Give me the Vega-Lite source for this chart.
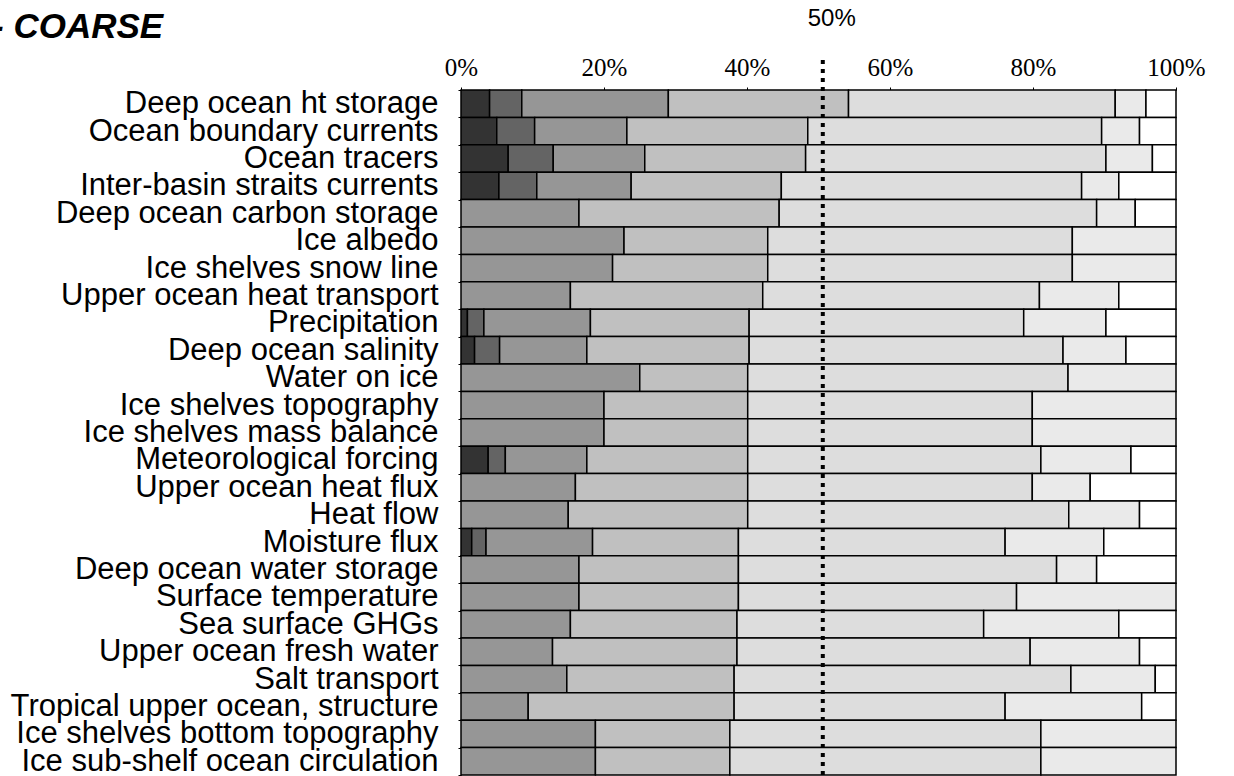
{
  "$schema": "https://vega.github.io/schema/vega-lite/v6.json",
  "autosize": "none",
  "width": 715,
  "height": 685,
  "padding": {"left": 461, "top": 90, "right": 58, "bottom": 1},
  "background": "white",
  "config": {"view": {"stroke": null}},
  "title": {"text": "- COARSE", "anchor": "start", "frame": "group", "font": "Liberation Sans", "fontSize": 35, "fontStyle": "italic", "fontWeight": "bold", "color": "black", "dx": -469, "dy": 38, "offset": 0},
  "layer": [
    {
      "data": {"values": [
        {"item": "Deep ocean ht storage", "c1": 4.0, "c2": 4.5, "c3": 20.5, "c4": 25.2, "c5": 37.3, "c6": 4.3, "c7": 4.2},
        {"item": "Ocean boundary currents", "c1": 5.0, "c2": 5.3, "c3": 12.9, "c4": 25.3, "c5": 41.1, "c6": 5.3, "c7": 5.1},
        {"item": "Ocean tracers", "c1": 6.6, "c2": 6.3, "c3": 12.8, "c4": 22.5, "c5": 42.0, "c6": 6.5, "c7": 3.3},
        {"item": "Inter-basin straits currents", "c1": 5.3, "c2": 5.3, "c3": 13.2, "c4": 21.0, "c5": 42.0, "c6": 5.2, "c7": 8.0},
        {"item": "Deep ocean carbon storage", "c1": 0, "c2": 0, "c3": 16.5, "c4": 28.0, "c5": 44.4, "c6": 5.4, "c7": 5.7},
        {"item": "Ice albedo", "c1": 0, "c2": 0, "c3": 22.8, "c4": 20.1, "c5": 42.6, "c6": 14.5, "c7": 0},
        {"item": "Ice shelves snow line", "c1": 0, "c2": 0, "c3": 21.2, "c4": 21.7, "c5": 42.6, "c6": 14.5, "c7": 0},
        {"item": "Upper ocean heat transport", "c1": 0, "c2": 0, "c3": 15.3, "c4": 26.9, "c5": 38.7, "c6": 11.1, "c7": 8.0},
        {"item": "Precipitation", "c1": 0.9, "c2": 2.3, "c3": 14.9, "c4": 22.2, "c5": 38.4, "c6": 11.5, "c7": 9.8},
        {"item": "Deep ocean salinity", "c1": 1.9, "c2": 3.5, "c3": 12.2, "c4": 22.7, "c5": 43.9, "c6": 8.8, "c7": 7.0},
        {"item": "Water on ice", "c1": 0, "c2": 0, "c3": 25.0, "c4": 15.1, "c5": 44.8, "c6": 15.1, "c7": 0},
        {"item": "Ice shelves topography", "c1": 0, "c2": 0, "c3": 20.0, "c4": 20.1, "c5": 39.8, "c6": 20.1, "c7": 0},
        {"item": "Ice shelves mass balance", "c1": 0, "c2": 0, "c3": 20.0, "c4": 20.1, "c5": 39.8, "c6": 20.1, "c7": 0},
        {"item": "Meteorological forcing", "c1": 3.8, "c2": 2.4, "c3": 11.4, "c4": 22.5, "c5": 41.0, "c6": 12.6, "c7": 6.3},
        {"item": "Upper ocean heat flux", "c1": 0, "c2": 0, "c3": 16.0, "c4": 24.1, "c5": 39.8, "c6": 8.1, "c7": 12.0},
        {"item": "Heat flow", "c1": 0, "c2": 0, "c3": 15.0, "c4": 25.1, "c5": 44.9, "c6": 9.9, "c7": 5.1},
        {"item": "Moisture flux", "c1": 1.5, "c2": 2.0, "c3": 14.9, "c4": 20.4, "c5": 37.3, "c6": 13.8, "c7": 10.1},
        {"item": "Deep ocean water storage", "c1": 0, "c2": 0, "c3": 16.5, "c4": 22.3, "c5": 44.5, "c6": 5.6, "c7": 11.1},
        {"item": "Surface temperature", "c1": 0, "c2": 0, "c3": 16.5, "c4": 22.3, "c5": 38.9, "c6": 22.3, "c7": 0},
        {"item": "Sea surface GHGs", "c1": 0, "c2": 0, "c3": 15.3, "c4": 23.3, "c5": 34.5, "c6": 18.9, "c7": 8.0},
        {"item": "Upper ocean fresh water", "c1": 0, "c2": 0, "c3": 12.8, "c4": 25.8, "c5": 41.0, "c6": 15.3, "c7": 5.1},
        {"item": "Salt transport", "c1": 0, "c2": 0, "c3": 14.8, "c4": 23.4, "c5": 47.1, "c6": 11.8, "c7": 2.9},
        {"item": "Tropical upper ocean, structure", "c1": 0, "c2": 0, "c3": 9.4, "c4": 28.8, "c5": 37.9, "c6": 19.1, "c7": 4.8},
        {"item": "Ice shelves bottom topography", "c1": 0, "c2": 0, "c3": 18.8, "c4": 18.8, "c5": 43.5, "c6": 18.9, "c7": 0},
        {"item": "Ice sub-shelf ocean circulation", "c1": 0, "c2": 0, "c3": 18.8, "c4": 18.8, "c5": 43.5, "c6": 18.9, "c7": 0}
      ]},
      "transform": [
        {"fold": ["c1", "c2", "c3", "c4", "c5", "c6", "c7"], "as": ["cat", "v"]},
        {"filter": "datum.v > 0"}
      ],
      "mark": {"type": "bar", "stroke": "black", "strokeWidth": 1.5},
      "encoding": {
        "y": {"field": "item", "type": "nominal", "sort": null,
              "scale": {"paddingInner": 0, "paddingOuter": 0},
              "axis": {"orient": "left", "title": null, "labelFont": "Liberation Sans", "labelFontSize": 31, "labelColor": "black", "labelLimit": 600, "tickColor": "black", "tickSize": 3, "tickBand": "extent", "domainColor": "black", "labelPadding": 20}},
        "x": {"field": "v", "type": "quantitative", "stack": "zero",
              "scale": {"domain": [0, 100], "nice": false},
              "axis": {"orient": "top", "values": [0, 20, 40, 60, 80, 100], "labelExpr": "datum.value + '%'", "labelFont": "Liberation Serif", "labelFontSize": 25, "labelColor": "black", "tickColor": "black", "tickSize": 3, "domainColor": "black", "grid": false, "title": null, "labelPadding": 12, "labelBaseline": "alphabetic", "labelFlush": false}},
        "color": {"field": "cat", "type": "nominal",
                  "scale": {"domain": ["c1", "c2", "c3", "c4", "c5", "c6", "c7"], "range": ["#333333", "#646464", "#969696", "#c0c0c0", "#dddddd", "#eaeaea", "#ffffff"]},
                  "legend": null},
        "order": {"field": "cat", "type": "ordinal", "sort": "ascending"}
      }
    },
    {
      "data": {"values": [{"p": 50.6, "y0": 0, "y1": 105.1}]},
      "mark": {"type": "rule", "strokeDash": [4, 5], "strokeWidth": 4, "color": "black", "clip": false},
      "encoding": {
        "x": {"field": "p", "type": "quantitative", "scale": {"domain": [0, 100], "nice": false}},
        "y": {"field": "y0", "type": "quantitative", "scale": {"domain": [0, 100], "nice": false, "zero": false}, "axis": null},
        "y2": {"field": "y1"}
      }
    },
    {
      "data": {"values": [{"p": 50.6, "yy": 110.4, "label": "50%"}]},
      "mark": {"type": "text", "font": "Liberation Sans", "fontSize": 24, "dx": 9, "baseline": "middle", "color": "black"},
      "encoding": {
        "x": {"field": "p", "type": "quantitative", "scale": {"domain": [0, 100], "nice": false}},
        "y": {"field": "yy", "type": "quantitative", "scale": {"domain": [0, 100], "nice": false, "zero": false}, "axis": null},
        "text": {"field": "label"}
      }
    }
  ],
  "resolve": {"scale": {"y": "independent"}}
}
